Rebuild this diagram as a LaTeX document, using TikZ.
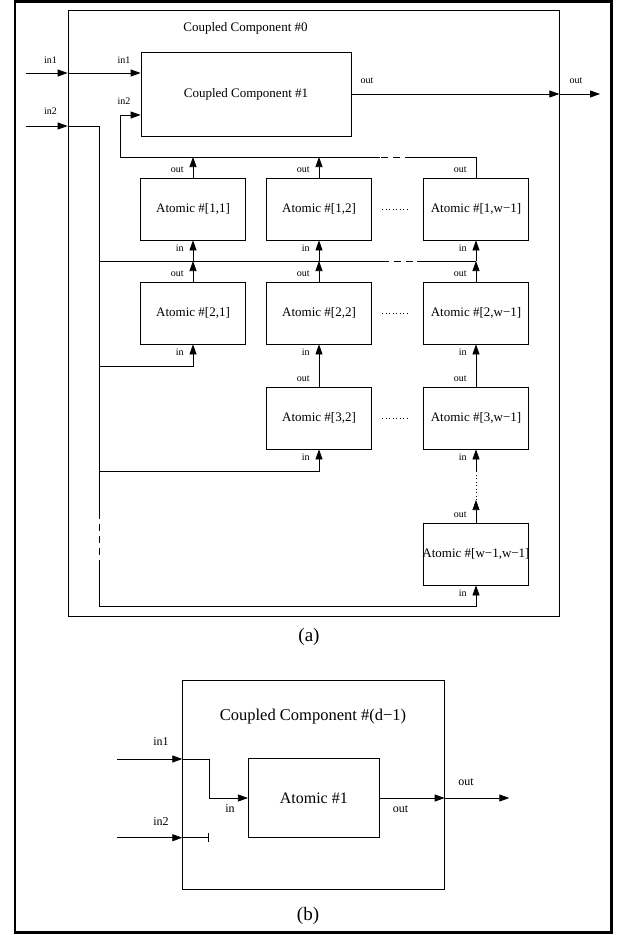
\documentclass[tikz,border=0pt]{standalone}
\usepackage{fontspec}
\setmainfont{Liberation Serif}
\usetikzlibrary{arrows.meta}

\begin{document}
\begin{tikzpicture}[x=1pt,y=-1pt,line width=0.75pt,
    arr/.style={-{Triangle[length=10pt,width=7pt]}},
    atom/.style={draw,minimum width=105pt,minimum height=62pt,inner sep=0pt,
      font=\fontsize{13}{15}\selectfont},
    lbl/.style={font=\fontsize{10}{12}\selectfont,inner sep=0pt,anchor=base},
    lblb/.style={font=\fontsize{12}{14}\selectfont,inner sep=0pt,anchor=base},
    gap/.style={dash pattern=on 7pt off 5pt},
    dots/.style={dash pattern=on 1pt off 2.5pt}]
\useasboundingbox (0,0) rectangle (620,935);
\draw[line width=2.5pt] (15,1.5) rectangle (611.5,932.5);

% ---- (a) ----
\node[draw,minimum width=491pt,minimum height=606pt] (cc0) at (313.5,313) {};
\node[anchor=base,font=\fontsize{13}{15}\selectfont] at (245.5,31) {Coupled Component \#0};
\node[draw,minimum width=210pt,minimum height=84pt,font=\fontsize{13}{15}\selectfont] (cc1) at (246,94) {Coupled Component \#1};

\foreach \r/\y in {1/209,2/313} {
  \node[atom] (a\r1) at (193,\y) {Atomic \#[\r,1]};
  \node[atom] (a\r2) at (319,\y) {Atomic \#[\r,2]};
}
\node[atom] (a32) at (319,418) {Atomic \#[3,2]};
\foreach \r/\y in {1/209,2/313,3/418}
  \node[atom] (a\r w) at (476,\y) {Atomic \#[\r,w−1]};
\node[atom] (aww) at (476,554) {\makebox[0pt]{Atomic \#[w−1,w−1]}};

\foreach \n in {a11,a12,a1w,a21,a22,a2w,a32,a3w,aww} {
  \node[lbl,anchor=base east] at ([shift={(-9pt,5pt)}]\n.north) {out};
  \node[lbl,anchor=base east] at ([shift={(-9pt,-11pt)}]\n.south) {in};
}
\foreach \y in {209,313,418}
  \draw[dots] (382,\y) -- (410,\y);

% inputs and output of the outer component
\coordinate (in1) at (26,73);
\coordinate (in2) at (26,126);
\draw[arr] (in1) -- (cc0.west |- in1);
\draw[arr] (cc0.west |- in1) -- (cc1.west |- in1);
\draw[arr] (in2) -- (cc0.west |- in2);
\draw[arr] (cc1.east) -- (cc0.east |- cc1.east);
\draw[arr] (cc0.east |- cc1.east) -- (600,94);
\node[lbl] at (50.5,63) {in1};
\node[lbl] at (124,63) {in1};
\node[lbl] at (50.5,114) {in2};
\node[lbl] at (124,104) {in2};
\node[lbl] at (367,83) {out};
\node[lbl] at (576,83) {out};

% first row feeds in2 of component #1
\coordinate (b1) at (120,157);
\draw (a1w.north) -- (a1w.north |- b1) -- (412,157);
\draw[gap] (412,157) -- (380,157);
\draw[arr] (380,157) -- (b1) -- (120,115) -- (cc1.west |- 0,115);
\draw[arr] (a11.north) -- (a11 |- b1);
\draw[arr] (a12.north) -- (a12 |- b1);

% in2 trunk
\coordinate (t0) at (99,126);
\coordinate (b2) at (99,261);
\draw (cc0.west |- t0) -- (t0) -- (99,512);
\draw[gap] (99,512) -- (99,563);
\draw[arr] (99,563) -- (99,606) -- (aww |- 0,606) -- (aww.south);

\draw (b2) -- (382,261);
\draw[gap] (382,261) -- (417,261);
\draw (417,261) -- (a1w |- b2);
\foreach \u/\d in {a11/a21,a12/a22,a1w/a2w} {
  \draw[arr] (\u |- b2) -- (\u.south);
  \draw[arr] (\d.north) -- (\d |- b2);
}
\draw[arr] (99,366) -- (a21 |- 0,366) -- (a21.south);
\draw[arr] (a32.north) -- (a22.south);
\draw[arr] (a3w.north) -- (a2w.south);
\draw[arr] (99,471) -- (a32 |- 0,471) -- (a32.south);
\draw[arr] (476,472) -- (a3w.south);
\draw[dots] (476,500) -- (476,472);
\draw[arr] (aww.north) -- (476,500);

\node[anchor=base,font=\fontsize{19}{22}\selectfont] at (309,641) {(a)};

% ---- (b) ----
\node[draw,minimum width=261.6pt,minimum height=208.6pt] (ccd) at (313.5,785) {};
\node[anchor=base,font=\fontsize{16.5}{19}\selectfont] at (313,720) {Coupled Component \#(d−1)};
\node[draw,minimum width=131pt,minimum height=78.3pt,font=\fontsize{16}{19}\selectfont] (at1) at (313.8,798) {Atomic \#1};

\coordinate (bin1) at (117.3,759);
\coordinate (bin2) at (117.3,837.7);
\draw[arr] (bin1) -- (ccd.west |- bin1);
\draw[arr] (ccd.west |- bin1) -- (209,759) -- (209,798) -- (at1.west);
\draw[arr] (bin2) -- (ccd.west |- bin2);
\draw[-{Bar[width=9pt]}] (ccd.west |- bin2) -- (209,837.7);
\draw[arr] (at1.east) -- (ccd.east |- at1.east);
\draw[arr] (ccd.east |- at1.east) -- (509.3,798);
\node[lblb] at (161,745) {in1};
\node[lblb] at (161,825.7) {in2};
\node[lblb] at (230,812) {in};
\node[lblb] at (400.5,812) {out};
\node[lblb] at (466,785) {out};

\node[anchor=base,font=\fontsize{19}{22}\selectfont] at (308,920) {(b)};
\end{tikzpicture}
\end{document}
